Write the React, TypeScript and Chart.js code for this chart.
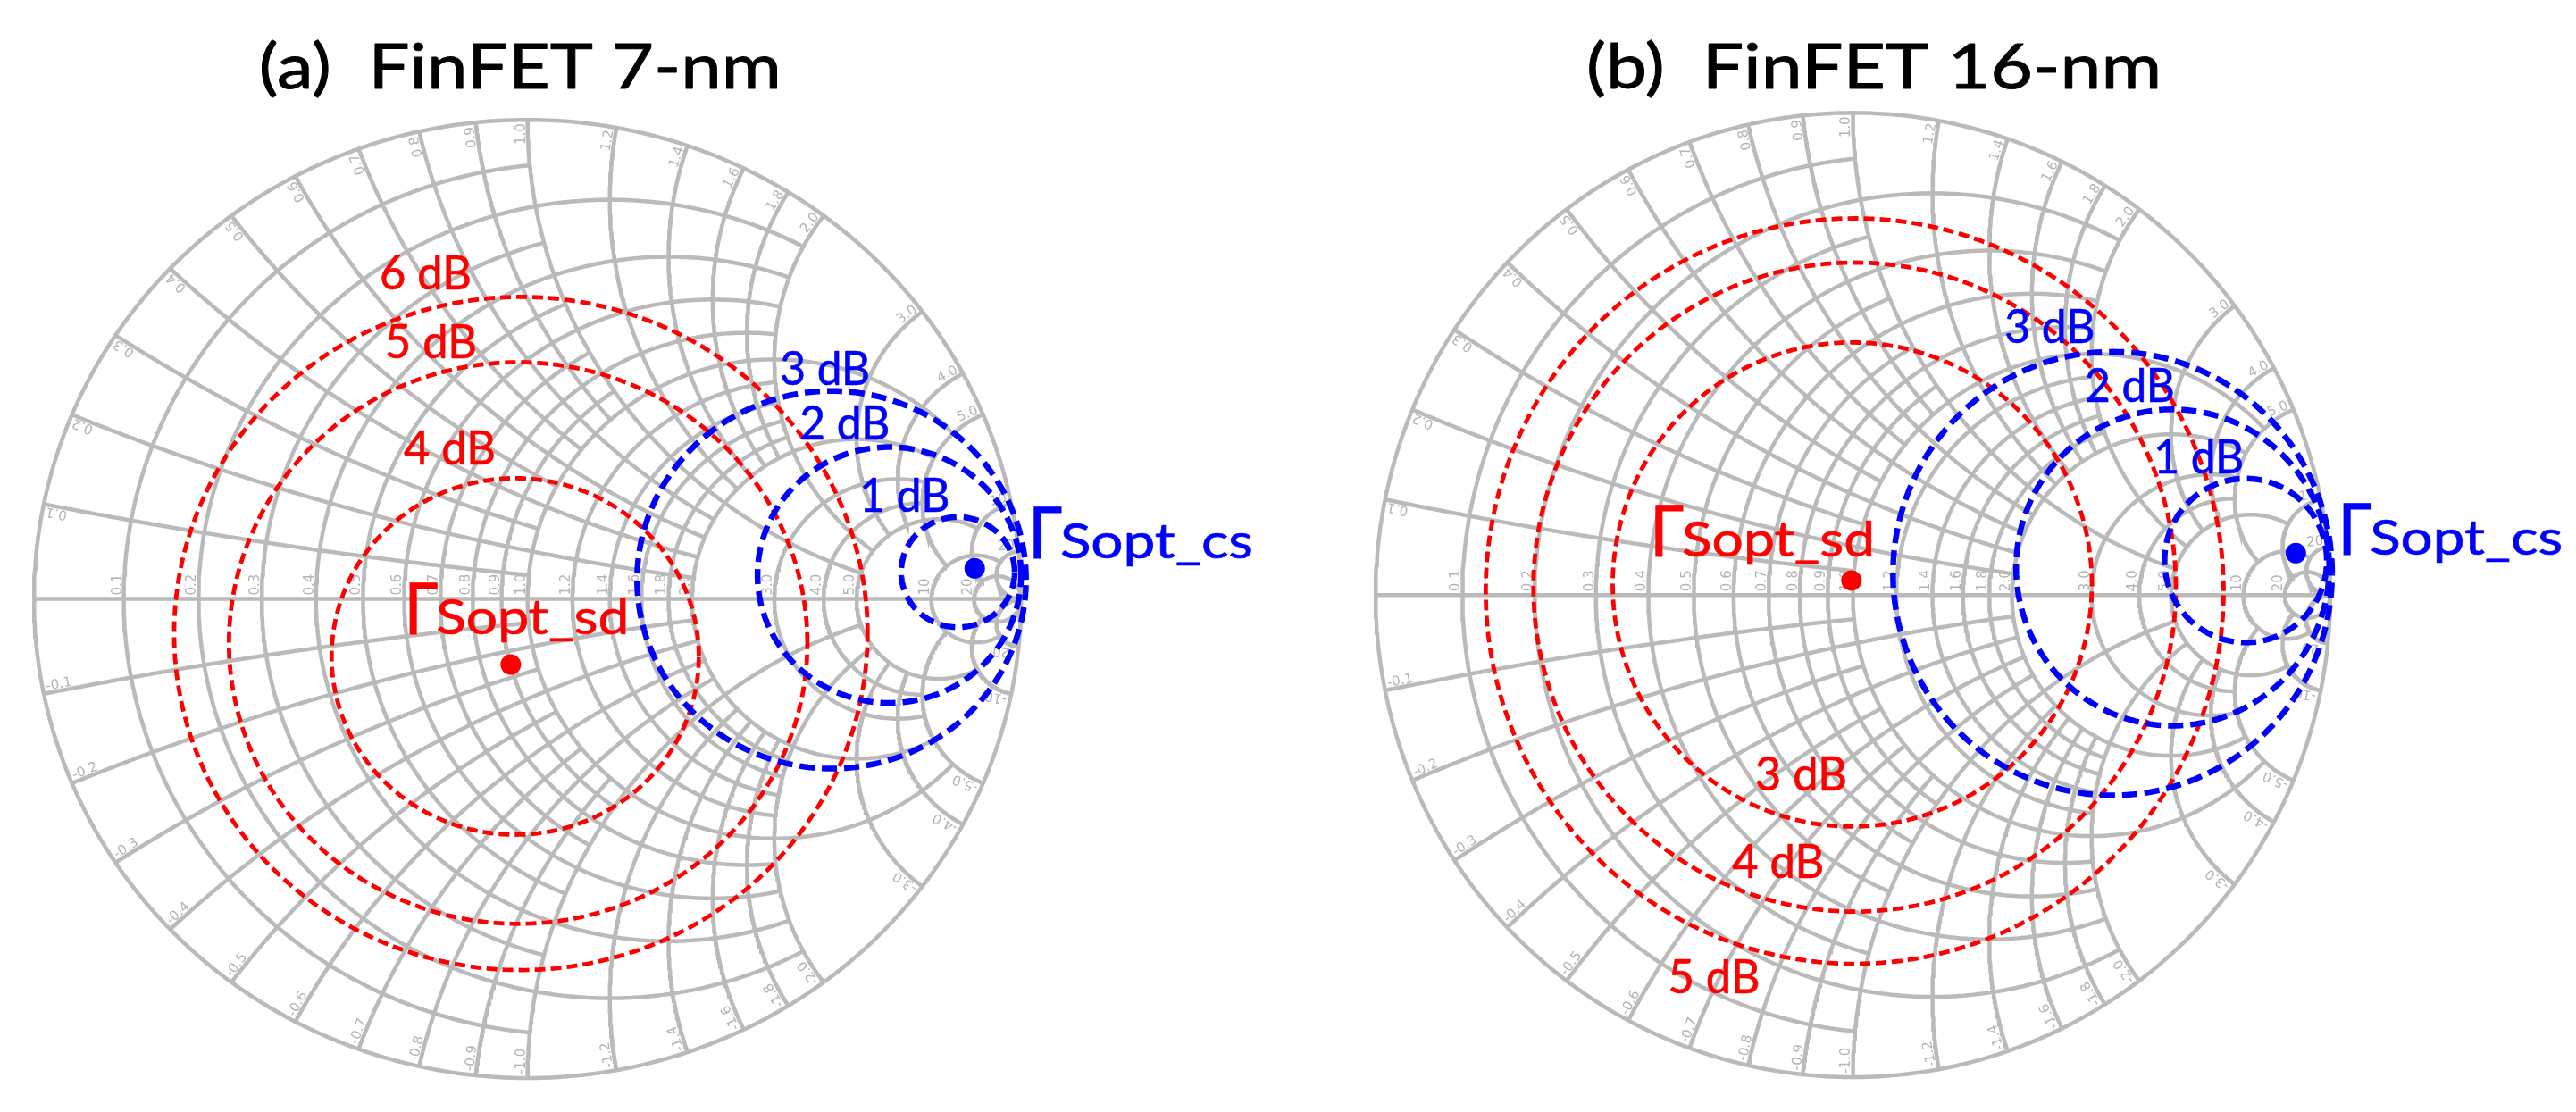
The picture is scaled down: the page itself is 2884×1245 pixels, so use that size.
import React, { useEffect, useRef } from "react";
import { Chart, registerables } from "chart.js";

Chart.register(...registerables);

// ---------------- grid ticks (Smith chart) ----------------
const resistanceTicks = [0.1, 0.2, 0.3, 0.4, 0.5, 0.6, 0.7, 0.8, 0.9, 1.0, 1.2, 1.4, 1.6, 1.8, 2.0, 3.0, 4.0, 5.0, 10, 20];
// reactance value at which each resistance circle stops
const resistanceStops = [1, 2, 1, 2, 1, 2, 1, 2, 1, 5, 2, 2, 2, 2, 5, 5, 5, 10, 20, Infinity];
const reactanceTicks = [0.1, 0.2, 0.3, 0.4, 0.5, 0.6, 0.7, 0.8, 0.9, 1.0, 1.2, 1.4, 1.6, 1.8, 2.0, 3.0, 4.0, 5.0, 10, 20];
// resistance value at which each reactance arc stops
const reactanceStops = [1, 2, 1, 2, 1, 2, 1, 2, 1, 5, 2, 2, 2, 2, 5, 5, 5, 10, 20, Infinity];

// ---------------- panel (a) FinFET 7-nm ----------------
const aTitle = "(a)  FinFET 7-nm";
const aSdLevels = ["4 dB", "5 dB", "6 dB"];
const aSdCenterRe = [-0.025, -0.019, -0.0136];
const aSdCenterIm = [-0.12, -0.092, -0.072];
const aSdRadius = [0.372, 0.586, 0.7025];
const aCsLevels = ["1 dB", "2 dB", "3 dB"];
const aCsCenterRe = [0.872, 0.733, 0.616];
const aCsCenterIm = [0.056, 0.05, 0.04];
const aCsRadius = [0.115, 0.267, 0.394];
const aOptSd = [-0.034, -0.137];
const aOptCs = [0.906, 0.064];
// label anchors in reflection-coefficient coordinates
const aSdLabelAt = [[-0.1576, 0.2809], [-0.1959, 0.5023], [-0.2066, 0.6468]];
const aCsLabelAt = [[0.764, 0.1821], [0.6429, 0.3321], [0.6028, 0.4474]];
const aOptSdLabelAt = [-0.2413, -0.0741];
const aOptCsLabelAt = [1.0232, 0.0851];
const aTitleAt = [-0.0151, 1.0659];

// ---------------- panel (b) FinFET 16-nm ----------------
const bTitle = "(b)  FinFET 16-nm";
const bSdLevels = ["3 dB", "4 dB", "5 dB"];
const bSdCenterRe = [-0.0013, 0.0037, 0.0037];
const bSdCenterIm = [0.0218, 0.0164, 0.0082];
const bSdRadius = [0.502, 0.673, 0.773];
const bCsLevels = ["1 dB", "2 dB", "3 dB"];
const bCsCenterRe = [0.823, 0.67, 0.544];
const bCsCenterIm = [0.0715, 0.057, 0.0445];
const bCsRadius = [0.17, 0.328, 0.46];
const bOptSd = [-0.003, 0.03];
const bOptCs = [0.928, 0.0867];
const bSdLabelAt = [[-0.1087, -0.4055], [-0.1565, -0.5873], [-0.291, -0.8255]];
const bCsLabelAt = [[0.7247, 0.2527], [0.5801, 0.4], [0.4125, 0.5236]];
const bOptSdLabelAt = [-0.4162, 0.0809];
const bOptCsLabelAt = [1.025, 0.0836];
const bTitleAt = [0.0442, 1.0509];

// ---------------- styles / layout ----------------
const CANVAS_W = 1442;
const CANVAS_H = 1245;
const GRID_COLOR = "#bababa";
const GRID_LABEL_COLOR = "#b3b3b3";
const RED = "#ff0000";
const BLUE = "#0000ff";

type Pt = { x: number; y: number };

function gammaOf(r: number, x: number): Pt {
  if (!isFinite(r) || !isFinite(x)) return { x: 1, y: 0 };
  const d = (r + 1) * (r + 1) + x * x;
  return { x: (r * r + x * x - 1) / d, y: (2 * x) / d };
}

function resistanceArc(r: number, x0: number, x1: number, n = 160): Pt[] {
  const c = r / (r + 1);
  const rho = 1 / (r + 1);
  const u0 = Math.atan(x0 / (r + 1));
  const u1 = Math.atan(x1 / (r + 1));
  const pts: Pt[] = [];
  for (let i = 0; i <= n; i++) {
    const u = u0 + ((u1 - u0) * i) / n;
    const phi = Math.PI - 2 * u;
    pts.push({ x: c + rho * Math.cos(phi), y: rho * Math.sin(phi) });
  }
  return pts;
}

function reactanceArc(x: number, r0: number, r1: number, n = 140): Pt[] {
  const v0 = Math.atan(x / (r0 + 1));
  const v1 = isFinite(r1) ? Math.atan(x / (r1 + 1)) : 0;
  const pts: Pt[] = [];
  for (let i = 0; i <= n; i++) {
    const v = v0 + ((v1 - v0) * i) / n;
    if (Math.abs(v) < 1e-12) pts.push({ x: 1, y: 0 });
    else pts.push(gammaOf(x / Math.tan(v) - 1, x));
  }
  return pts;
}

function circlePts(cx: number, cy: number, rad: number, n = 260): Pt[] {
  const pts: Pt[] = [];
  for (let i = 0; i <= n; i++) {
    const t = (2 * Math.PI * i) / n;
    pts.push({ x: cx + rad * Math.cos(t), y: cy + rad * Math.sin(t) });
  }
  return pts;
}

function tickText(v: number): string {
  const a = Math.abs(v);
  const s = a >= 10 ? String(Math.round(a)) : a.toFixed(1);
  return v < 0 ? "-" + s : s;
}

function gridDatasets(): any[] {
  const base = {
    showLine: true,
    pointRadius: 0,
    pointHoverRadius: 0,
    borderColor: GRID_COLOR,
    borderWidth: 4.5,
    fill: false,
    tension: 0,
    order: 3,
  };
  const sets: any[] = [];
  sets.push({ ...base, data: resistanceArc(0, -Infinity, Infinity, 400) });
  sets.push({ ...base, data: [{ x: -1, y: 0 }, { x: 1, y: 0 }] });
  resistanceTicks.forEach((r, i) => {
    const s = resistanceStops[i];
    sets.push({ ...base, data: resistanceArc(r, -s, s) });
  });
  reactanceTicks.forEach((x, i) => {
    const s = reactanceStops[i];
    sets.push({ ...base, data: reactanceArc(x, 0, s) });
    sets.push({ ...base, data: reactanceArc(-x, 0, s) });
  });
  return sets;
}

type Panel = {
  title: string;
  titleAt: number[];
  sdLevels: string[];
  sdRe: number[];
  sdIm: number[];
  sdR: number[];
  csLevels: string[];
  csRe: number[];
  csIm: number[];
  csR: number[];
  optSd: number[];
  optCs: number[];
  sdLabelAt: number[][];
  csLabelAt: number[][];
  optSdLabelAt: number[];
  optCsLabelAt: number[];
  frame: { cx: number; cy: number; rx: number; ry: number };
  titleWidth: number;
};

const panels: Panel[] = [
  {
    title: aTitle, titleAt: aTitleAt,
    sdLevels: aSdLevels, sdRe: aSdCenterRe, sdIm: aSdCenterIm, sdR: aSdRadius,
    csLevels: aCsLevels, csRe: aCsCenterRe, csIm: aCsCenterIm, csR: aCsRadius,
    optSd: aOptSd, optCs: aOptCs,
    sdLabelAt: aSdLabelAt, csLabelAt: aCsLabelAt,
    optSdLabelAt: aOptSdLabelAt, optCsLabelAt: aOptCsLabelAt,
    frame: { cx: 588.5, cy: 671.5, rx: 561.5, ry: 546.5 },
    titleWidth: 585,
  },
  {
    title: bTitle, titleAt: bTitleAt,
    sdLevels: bSdLevels, sdRe: bSdCenterRe, sdIm: bSdCenterIm, sdR: bSdRadius,
    csLevels: bCsLevels, csRe: bCsCenterRe, csIm: bCsCenterIm, csR: bCsRadius,
    optSd: bOptSd, optCs: bOptCs,
    sdLabelAt: bSdLabelAt, csLabelAt: bCsLabelAt,
    optSdLabelAt: bOptSdLabelAt, optCsLabelAt: bOptCsLabelAt,
    frame: { cx: 631, cy: 667, rx: 543, ry: 550 },
    titleWidth: 644,
  },
];

function fitText(
  ctx: CanvasRenderingContext2D, text: string, x: number, y: number,
  font: string, color: string, align: "left" | "center", width?: number, bold = 0.7
) {
  ctx.save();
  ctx.font = font;
  ctx.fillStyle = color;
  ctx.strokeStyle = color;
  ctx.lineJoin = "round";
  ctx.textBaseline = "alphabetic";
  ctx.textAlign = "left";
  const w = ctx.measureText(text).width;
  const s = width ? width / w : 1;
  const sx = align === "center" ? x - (w * s) / 2 : x;
  ctx.translate(sx, y);
  ctx.scale(s, 1);
  ctx.fillText(text, 0, 0);
  if (bold > 0) {
    ctx.lineWidth = bold;
    ctx.strokeText(text, 0, 0);
  }
  ctx.restore();
}

function makeTextPlugin(p: Panel) {
  return {
    id: "smithText",
    beforeDatasetsDraw(chart: any) {
      const ctx: CanvasRenderingContext2D = chart.ctx;
      const xs = chart.scales.x;
      const ys = chart.scales.y;
      ctx.save();
      ctx.font = "15px 'DejaVu Sans'";
      ctx.fillStyle = GRID_LABEL_COLOR;
      ctx.textBaseline = "alphabetic";
      // labels on the real axis
      resistanceTicks.forEach((r) => {
        const g = (r - 1) / (r + 1);
        const px = xs.getPixelForValue(g);
        const py = ys.getPixelForValue(0);
        ctx.save();
        ctx.translate(px, py);
        ctx.rotate(-Math.PI / 2);
        ctx.textAlign = "left";
        ctx.fillText(tickText(r), 4, -3);
        ctx.restore();
      });
      // labels on the rim
      const cxp = xs.getPixelForValue(0);
      const cyp = ys.getPixelForValue(0);
      reactanceTicks.forEach((xv) => {
        [xv, -xv].forEach((x) => {
          const g = gammaOf(0, x);
          const px = xs.getPixelForValue(g.x);
          const py = ys.getPixelForValue(g.y);
          const dx = px - cxp;
          const dy = py - cyp;
          ctx.save();
          ctx.translate(px, py);
          if (x > 0) {
            ctx.rotate(Math.atan2(dy, dx));
            ctx.textAlign = "right";
            ctx.fillText(tickText(x), -4, -3);
          } else {
            ctx.rotate(Math.atan2(-dy, -dx));
            ctx.textAlign = "left";
            ctx.fillText(tickText(x), 4, -3);
          }
          ctx.restore();
        });
      });
      ctx.restore();
    },
    afterDatasetsDraw(chart: any) {
      const ctx: CanvasRenderingContext2D = chart.ctx;
      const xs = chart.scales.x;
      const ys = chart.scales.y;
      const X = (v: number) => xs.getPixelForValue(v);
      const Y = (v: number) => ys.getPixelForValue(v);
      // title
      fitText(ctx, p.title, X(p.titleAt[0]), Y(p.titleAt[1]), "70px Lato", "#000000", "center", p.titleWidth, 0.9);
      // dB labels
      p.sdLevels.forEach((t, i) => {
        fitText(ctx, t, X(p.sdLabelAt[i][0]), Y(p.sdLabelAt[i][1]), "53px Lato", RED, "center", 103);
      });
      p.csLevels.forEach((t, i) => {
        fitText(ctx, t, X(p.csLabelAt[i][0]), Y(p.csLabelAt[i][1]), "53px Lato", BLUE, "center", 101);
      });
      // Gamma labels
      const gLabel = (at: number[], sub: string, color: string) => {
        const x0 = X(at[0]);
        const y0 = Y(at[1]);
        ctx.save();
        ctx.font = "80px 'Noto Sans'";
        ctx.fillStyle = color;
        ctx.strokeStyle = color;
        ctx.lineWidth = 0.8;
        ctx.textAlign = "left";
        ctx.textBaseline = "alphabetic";
        ctx.fillText("Γ", x0 - 6, y0);
        ctx.strokeText("Γ", x0 - 6, y0);
        ctx.restore();
        fitText(ctx, sub, x0 + 31, y0, "55px Lato", color, "left", 216);
      };
      gLabel(p.optSdLabelAt, "Sopt_sd", RED);
      gLabel(p.optCsLabelAt, "Sopt_cs", BLUE);
    },
  };
}

function buildConfig(p: Panel): any {
  const datasets: any[] = [];
  datasets.push({
    data: [{ x: p.optSd[0], y: p.optSd[1] }],
    pointRadius: 11.5, pointHoverRadius: 11.5, backgroundColor: RED, borderWidth: 0, showLine: false, order: 0,
  });
  datasets.push({
    data: [{ x: p.optCs[0], y: p.optCs[1] }],
    pointRadius: 11.5, pointHoverRadius: 11.5, backgroundColor: BLUE, borderWidth: 0, showLine: false, order: 0,
  });
  p.csLevels.forEach((_, i) => {
    datasets.push({
      data: circlePts(p.csRe[i], p.csIm[i], p.csR[i]),
      showLine: true, pointRadius: 0, pointHoverRadius: 0, borderColor: BLUE, borderWidth: 6.5,
      borderDash: [17, 8], fill: false, tension: 0, order: 1,
    });
  });
  p.sdLevels.forEach((_, i) => {
    datasets.push({
      data: circlePts(p.sdRe[i], p.sdIm[i], p.sdR[i]),
      showLine: true, pointRadius: 0, pointHoverRadius: 0, borderColor: RED, borderWidth: 4.8,
      borderDash: [12, 6], fill: false, tension: 0, order: 2,
    });
  });
  gridDatasets().forEach((d) => datasets.push(d));

  const f = p.frame;
  return {
    type: "scatter",
    data: { datasets },
    options: {
      animation: false,
      responsive: false,
      maintainAspectRatio: false,
      events: [],
      parsing: false,
      normalized: true,
      layout: { padding: 0 },
      plugins: { legend: { display: false }, tooltip: { enabled: false }, title: { display: false } },
      scales: {
        x: { type: "linear", display: false, min: -f.cx / f.rx, max: (CANVAS_W - f.cx) / f.rx },
        y: { type: "linear", display: false, min: -(CANVAS_H - f.cy) / f.ry, max: f.cy / f.ry },
      },
    },
    plugins: [makeTextPlugin(p)],
  };
}

function SmithPanel({ panel, left }: { panel: Panel; left: number }) {
  const ref = useRef<HTMLCanvasElement>(null);
  useEffect(() => {
    if (!ref.current) return;
    const chart = new Chart(ref.current, buildConfig(panel));
    return () => chart.destroy();
  }, [panel]);
  return (
    <canvas
      ref={ref}
      width={CANVAS_W}
      height={CANVAS_H}
      style={{ position: "absolute", left, top: 0, width: CANVAS_W, height: CANVAS_H, display: "block" }}
    />
  );
}

export default function App() {
  return (
    <div style={{ position: "fixed", left: 0, top: 0, width: 2884, height: 1245, background: "#ffffff", overflow: "hidden" }}>
      <SmithPanel panel={panels[0]} left={0} />
      <SmithPanel panel={panels[1]} left={CANVAS_W} />
    </div>
  );
}
